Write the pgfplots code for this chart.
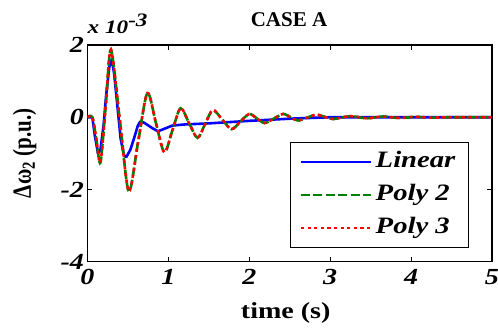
\documentclass[border=0pt]{standalone}
\usepackage{fontspec}
\setmainfont{Liberation Serif}
\newfontfamily\wf{Liberation Serif}[FakeStretch=1.22]
\usepackage{pgfplots}
\usepackage{pgfplotstable}
\pgfplotsset{compat=1.18}

\pgfplotstableread{
t v
0 0
0.06 0
0.09 -0.5
0.13 -1.0
0.16 -0.9
0.20 -0.2
0.23 0.6
0.27 1.4
0.30 1.6
0.33 1.2
0.37 0.3
0.41 -0.6
0.45 -1.05
0.48 -1.1
0.53 -0.9
0.58 -0.55
0.62 -0.25
0.65 -0.12
0.70 -0.15
0.80 -0.30
0.87 -0.39
0.95 -0.32
1.05 -0.23
1.2 -0.2
1.5 -0.17
2.0 -0.1
2.5 -0.04
3.0 0
5 0
}\linear

\pgfplotstableread{
t v
0 0
0.06 0
0.11 -0.62
0.16 -1.25
0.225 0.31
0.29 1.87
0.40 -0.09
0.51 -2.05
0.625 -0.69
0.74 0.67
0.845 -0.15
0.95 -0.97
1.05 -0.36
1.15 0.25
1.255 -0.16
1.36 -0.57
1.455 -0.18
1.55 0.2
1.665 -0.065
1.78 -0.33
1.89 -0.12
2.0 0.09
2.095 -0.035
2.19 -0.16
2.305 -0.035
2.42 0.09
2.51 0
2.6 -0.09
2.715 -0.01
2.83 0.07
2.935 0.01
3.04 -0.05
3.25 0.03
3.45 -0.03
3.65 0.02
3.85 -0.02
4.05 0.01
4.25 -0.01
4.5 0
5 0
}\polytwo

\pgfplotstableread{
t v
0 0
0.06 0
0.11 -0.62
0.16 -1.25
0.225 0.31
0.29 1.87
0.40 -0.09
0.51 -2.05
0.625 -0.69
0.74 0.67
0.845 -0.15
0.95 -0.97
1.05 -0.36
1.15 0.25
1.255 -0.16
1.36 -0.57
1.455 -0.18
1.55 0.2
1.665 -0.065
1.78 -0.33
1.89 -0.12
2.0 0.09
2.095 -0.035
2.19 -0.16
2.305 -0.035
2.42 0.09
2.51 0
2.6 -0.09
2.715 -0.01
2.83 0.07
2.935 0.01
3.04 -0.05
3.25 0.03
3.45 -0.03
3.65 0.02
3.85 -0.02
4.05 0.01
4.25 -0.01
4.5 0
5 0
}\polythree

\definecolor{mgreen}{rgb}{0,0.5,0}

\begin{document}
\begin{tikzpicture}
\begin{axis}[
  scale only axis, width=404.5pt, height=216.7pt,
  at={(0pt,0pt)}, anchor=south west,
  xmin=0, xmax=5, ymin=-4, ymax=2,
  xtick={0,1,2,3,4,5}, ytick={-4,-2,0,2},
  scaled ticks=false,
  /pgf/number format/assume math mode=true,
  ticklabel style={font=\wf\fontsize{23}{25}\selectfont\bfseries\itshape},
  xticklabel style={yshift=-4pt},
  tick align=inside, major tick length=5pt,
  axis line style={line width=1.1pt},
  every tick/.style={black, line width=0.9pt},
  xlabel={time (s)},
  ylabel={\scalebox{1}[1.25]{\bfseries Δω\textsubscript{2} (p.u.)}},
  xlabel style={font=\wf\fontsize{23}{25}\selectfont\bfseries, at={(axis description cs:0.49,-0.264)}, anchor=base},
  ylabel style={font=\fontsize{21}{23}\selectfont\bfseries, at={(axis description cs:-0.1397,0.5)}, anchor=base},
  legend style={at={(0.943,0.552)}, anchor=north east, draw=black, line width=1.1pt,
    font=\wf\fontsize{23.5}{25}\selectfont\bfseries\itshape, legend cell align=left,
    inner xsep=9.5pt, inner ysep=8pt, row sep=10pt,
    nodes={text height=17pt, text depth=6pt, inner ysep=0pt, inner xsep=3.5pt}},
  legend image code/.code={\draw[#1] (0pt,0pt) -- (70pt,0pt);},
]
\addplot[blue, line width=2.6pt, line join=round] table[x=t,y=v] {\linear};
\addlegendentry{Linear}
\addplot[mgreen, line width=2.6pt, smooth, dash pattern=on 9pt off 3.5pt] table[x=t,y=v] {\polytwo};
\addlegendentry{Poly 2}
\addplot[red, line width=2.6pt, smooth, dash pattern=on 3.3pt off 3.3pt] table[x=t,y=v] {\polythree};
\addlegendentry{Poly 3}
\end{axis}
\node[anchor=base, font=\fontsize{21}{23}\selectfont\bfseries] at (201.5pt,235pt) {CASE A};
\node[anchor=base west, inner sep=0pt, font=\wf\fontsize{19}{21}\selectfont\bfseries\itshape] at (0pt,228.4pt) {x 10\raisebox{7pt}{-3}};
\pgfresetboundingbox
\useasboundingbox (-87.5pt,-65.3pt) rectangle (410.5pt,261.7pt);
\end{tikzpicture}
\end{document}
